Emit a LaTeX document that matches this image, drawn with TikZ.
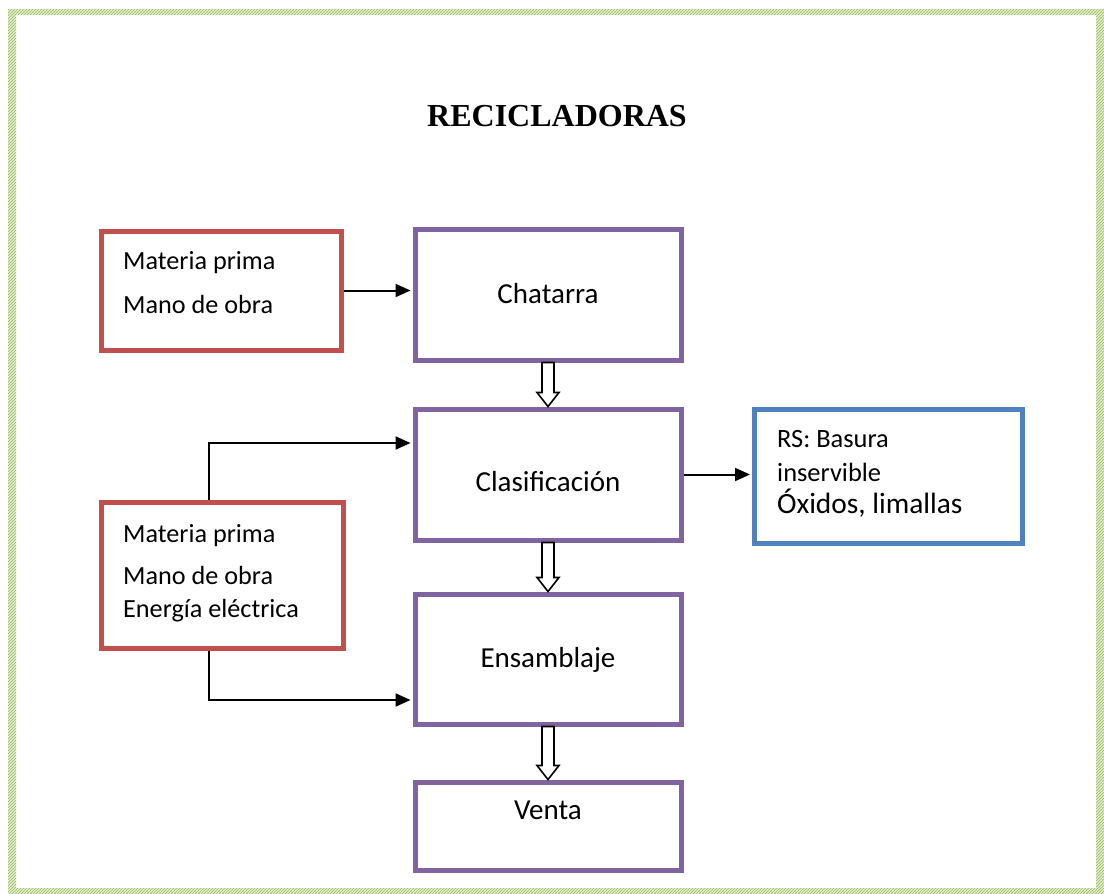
\documentclass[tikz,border=0pt]{standalone}
\usepackage{fontspec}
\setmainfont{Carlito}
\newfontfamily\titlefont{Liberation Serif}
\usetikzlibrary{arrows.meta,calc,patterns}
\definecolor{boxred}{HTML}{C0504D}
\definecolor{boxpurple}{HTML}{8064A2}
\definecolor{boxblue}{HTML}{4F81BD}
\definecolor{bordgreen}{HTML}{9BBB59}
\definecolor{bordlight}{HTML}{E2EBCF}
\newcommand{\blockarrow}[2]{%
  \draw[hollow] let \p1=(#1), \p2=(#2) in
    (\x1-6pt,\y1) -- (\x1+6pt,\y1) -- (\x1+6pt,\y2+14pt) -- (\x1+11pt,\y2+14pt)
    -- (\x1,\y2) -- (\x1-11pt,\y2+14pt) -- (\x1-6pt,\y2+14pt) -- cycle;}
\begin{document}
\begin{tikzpicture}[x=1pt,y=-1pt,
  box/.style={rectangle, draw, line width=5pt, inner sep=0pt},
  redbox/.style={box, draw=boxred},
  purplebox/.style={box, draw=boxpurple, minimum width=266},
  bluebox/.style={box, draw=boxblue},
  redtext/.style={anchor=base west, inner sep=0pt, font=\fontsize{26.2}{30}\selectfont},
  bluetext/.style={anchor=base west, inner sep=0pt, font=\fontsize{26.4}{30}\selectfont},
  bigbluetext/.style={anchor=base west, inner sep=0pt, font=\fontsize{29.4}{34}\selectfont},
  lbl/.style={anchor=base, inner sep=0pt, font=\fontsize{29}{34}\selectfont},
  titletext/.style={anchor=base, inner sep=0pt, font=\titlefont\bfseries\fontsize{32}{36}\selectfont},
  conn/.style={line width=2pt, -{Triangle[length=15pt,width=13pt]}, shorten >=2pt},
  hollow/.style={draw=black, fill=white, line width=1.6pt, line join=miter}
]
\useasboundingbox (0,0) rectangle (1104,894);
% decorative border
\fill[bordlight, even odd rule] (8,9) rectangle (1104,894) (16,15) rectangle (1096,888);
\fill[pattern=north east lines, pattern color=bordgreen, even odd rule] (8,9) rectangle (1104,894) (16,15) rectangle (1096,888);

% title
\node[titletext] (title) at (557,126) {RECICLADORAS};

% boxes
\node[redbox, minimum width=240, minimum height=119] (in1) at (221,290.5) {};
\node[purplebox, minimum height=131] (chatarra) at (548,294.5) {};
\node[purplebox, minimum height=131] (clasif) at (548,474.5) {};
\node[purplebox, minimum height=130] (ensam) at (548,659) {};
\node[purplebox, minimum height=88] (venta) at (548,826) {};
\node[redbox, minimum width=242, minimum height=146] (in2) at (222,575) {};
\node[bluebox, minimum width=268, minimum height=134] (rs) at (888.5,476.5) {};

% texts
\node[redtext] (t1a) at (123,269) {Materia prima};
\node[redtext] (t1b) at (123,313) {Mano de obra};
\node[redtext] (t2a) at (123,542) {Materia prima};
\node[redtext] (t2b) at (123,584) {Mano de obra};
\node[redtext] (t2c) at (123,617) {Energía eléctrica};
\node[bluetext] (rs1) at (777,447) {RS: Basura};
\node[bluetext] (rs2) at (777,481) {inservible};
\node[bigbluetext] (rs3) at (777,513) {Óxidos, limallas};

\coordinate (yc) at (0,303);
\coordinate (ycl) at (0,491);
\coordinate (ye) at (0,667);
\coordinate (yv) at (0,819);
\node[lbl] (lchat) at (chatarra.center |- yc) {Chatarra};
\node[lbl] (lclas) at (clasif.center |- ycl) {Clasificación};
\node[lbl] (lens) at (ensam.center |- ye) {Ensamblaje};
\node[lbl] (lven) at (venta.center |- yv) {Venta};

% connectors
\coordinate (k1) at (209,443);
\coordinate (k2) at (209,700);
\draw[conn] (in1.east) -- (in1.east -| chatarra.west);
\draw[conn] (clasif.east) -- (clasif.east -| rs.west);
\draw[conn] (in2.north -| k1) |- (clasif.west |- k1);
\draw[conn] (in2.south -| k2) |- (ensam.west |- k2);

\blockarrow{chatarra.south}{clasif.north}
\blockarrow{clasif.south}{ensam.north}
\blockarrow{ensam.south}{venta.north}
\end{tikzpicture}
\end{document}
